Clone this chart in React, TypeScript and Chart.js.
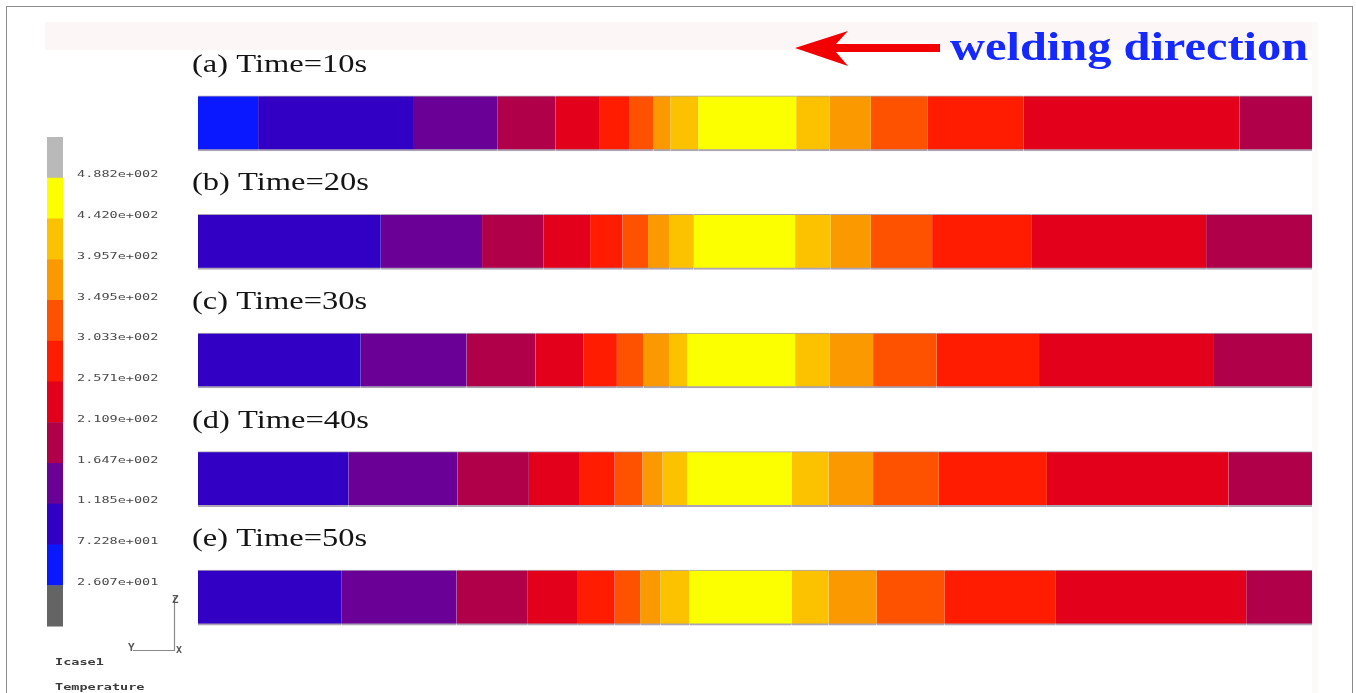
import React, { useEffect, useRef } from "react";
import { Chart, registerables } from "chart.js";
Chart.register(...registerables);

// Row titles (time steps)
const rowLabels = ["(a) Time=10s", "(b) Time=20s", "(c) Time=30s", "(d) Time=40s", "(e) Time=50s"];

// Contour band boundaries along the plate (% of plate length), per time step
const edges10s = [0, 5.4, 19.3, 26.9, 32.1, 36.0, 38.7, 40.9, 42.4, 44.9, 53.7, 56.7, 60.4, 65.5, 74.1, 93.5, 100];
const edges20s = [0, 16.4, 25.5, 31.0, 35.2, 38.1, 40.4, 42.3, 44.5, 53.6, 56.8, 60.4, 65.9, 74.8, 90.5, 100];
const edges30s = [0, 14.6, 24.1, 30.3, 34.6, 37.6, 40.0, 42.3, 43.9, 53.6, 56.7, 60.6, 66.3, 75.5, 91.2, 100];
const edges40s = [0, 13.5, 23.3, 29.7, 34.2, 37.4, 39.9, 41.7, 43.9, 53.3, 56.6, 60.6, 66.5, 76.2, 92.5, 100];
const edges50s = [0, 12.9, 23.2, 29.6, 34.1, 37.4, 39.7, 41.5, 44.1, 53.3, 56.6, 60.9, 67.0, 77.0, 94.1, 100];

// Contour level of each band (0 = lowest, 11 = highest)
const levels10s = [1, 2, 3, 4, 5, 6, 7, 8, 9, 10, 9, 8, 7, 6, 5, 4];
const levelsLater = [2, 3, 4, 5, 6, 7, 8, 9, 10, 9, 8, 7, 6, 5, 4];

// Colour scale, lowest level first
const levelColors = [
  "#646464", "#0a18ff", "#3200c4", "#6a0096", "#b0004a", "#e2001a",
  "#ff1c00", "#ff5200", "#fa9a00", "#fcc200", "#fcff00", "#b9b9b9",
];
// Legend tick labels, top to bottom
const legendLabels = [
  "4.882e+002", "4.420e+002", "3.957e+002", "3.495e+002", "3.033e+002", "2.571e+002",
  "2.109e+002", "1.647e+002", "1.185e+002", "7.228e+001", "2.607e+001",
];

const rows = [
  { edges: edges10s, levels: levels10s },
  { edges: edges20s, levels: levelsLater },
  { edges: edges30s, levels: levelsLater },
  { edges: edges40s, levels: levelsLater },
  { edges: edges50s, levels: levelsLater },
];

function stretchedText(ctx: CanvasRenderingContext2D, text: string, x: number, y: number, font: string, color: string, sx: number) {
  ctx.save();
  ctx.font = font;
  ctx.fillStyle = color;
  ctx.textAlign = "left";
  ctx.textBaseline = "alphabetic";
  ctx.translate(x, y);
  ctx.scale(sx, 1);
  ctx.fillText(text, 0, 0);
  ctx.restore();
}

const decorPlugin = {
  id: "decor",
  beforeDraw(chart: any) {
    const ctx: CanvasRenderingContext2D = chart.ctx;
    ctx.save();
    ctx.fillStyle = "#ffffff";
    ctx.fillRect(0, 0, chart.width, chart.height);
    ctx.fillStyle = "#fdf6f6";
    ctx.fillRect(45, 22, 1273, 28);
    ctx.fillStyle = "#fcf9f9";
    ctx.fillRect(1312, 22, 6, chart.height - 22);
    ctx.strokeStyle = "#8a8a8a";
    ctx.lineWidth = 1;
    ctx.strokeRect(6.5, 6.5, 1346, chart.height + 10);
    ctx.restore();
  },
  afterDraw(chart: any) {
    const ctx: CanvasRenderingContext2D = chart.ctx;
    const yScale = chart.scales.y;
    const left = chart.chartArea.left;
    // row titles
    rowLabels.forEach((t, i) => {
      const yc = yScale.getPixelForValue(i);
      stretchedText(ctx, t, left - 6, yc - 27.5 - 24, "26px 'Liberation Serif'", "#141414", 1.25);
    });
    // welding direction arrow
    ctx.save();
    ctx.fillStyle = "#f20000";
    ctx.beginPath();
    ctx.moveTo(795, 48);
    ctx.lineTo(848, 31);
    ctx.lineTo(836, 44);
    ctx.lineTo(940, 44);
    ctx.lineTo(940, 52);
    ctx.lineTo(836, 52);
    ctx.lineTo(848, 66);
    ctx.closePath();
    ctx.fill();
    ctx.restore();
    stretchedText(ctx, "welding direction", 950, 60, "bold 40px 'Liberation Serif'", "#1428ff", 1.21);
    // colour legend
    const boxH = 40.75;
    const top = 137;
    for (let k = 0; k < levelColors.length; k++) {
      const c = levelColors[levelColors.length - 1 - k];
      ctx.fillStyle = c;
      ctx.fillRect(47, top + k * boxH, 16, boxH + 0.5);
    }
    legendLabels.forEach((l, k) => {
      stretchedText(ctx, l, 77, top + (k + 1) * boxH - 0.5, "9px 'DejaVu Sans Mono'", "#4a4a4a", 1.5);
    });
    stretchedText(ctx, "Icase1", 55, 665, "bold 9px 'DejaVu Sans Mono'", "#3c3c3c", 1.5);
    stretchedText(ctx, "Temperature", 55, 690, "bold 9px 'DejaVu Sans Mono'", "#3c3c3c", 1.5);
    // axis triad
    ctx.save();
    ctx.strokeStyle = "#8a8a8a";
    ctx.lineWidth = 1.2;
    ctx.beginPath();
    ctx.moveTo(174.5, 597);
    ctx.lineTo(174.5, 650.5);
    ctx.lineTo(133, 650.5);
    ctx.stroke();
    ctx.restore();
    stretchedText(ctx, "Z", 172, 603, "bold 10px 'DejaVu Sans Mono'", "#555", 1.1);
    stretchedText(ctx, "Y", 128, 651, "bold 10px 'DejaVu Sans Mono'", "#555", 1.1);
    stretchedText(ctx, "X", 176, 653, "bold 9px 'DejaVu Sans Mono'", "#555", 1.1);
  },
};

export default function App() {
  const ref = useRef<HTMLCanvasElement | null>(null);
  useEffect(() => {
    if (!ref.current) return;
    const maxSeg = Math.max(...rows.map((r) => r.edges.length - 1));
    const datasets = [];
    for (let k = 0; k < maxSeg; k++) {
      datasets.push({
        label: "band " + k,
        data: rows.map((r) => (k < r.edges.length - 1 ? [r.edges[k], r.edges[k + 1]] : null)),
        backgroundColor: rows.map((r) => (k < r.levels.length ? levelColors[r.levels[k]] : "transparent")),
        borderColor: "rgba(70,50,90,0.45)",
        borderWidth: { top: 1, bottom: 2, left: 0, right: 0 },
        borderSkipped: false,
        barThickness: 55,
        grouped: false,
      });
    }
    const chart = new Chart(ref.current, {
      type: "bar",
      data: { labels: rowLabels, datasets: datasets as any },
      options: {
        animation: false,
        responsive: false,
        devicePixelRatio: 1,
        indexAxis: "y",
        layout: { padding: { left: 198, right: 44, top: 64, bottom: 36 } },
        plugins: { legend: { display: false }, tooltip: { enabled: false }, title: { display: false } },
        scales: {
          x: { type: "linear", min: 0, max: 100, display: false },
          y: { type: "category", display: false, offset: true },
        },
      },
      plugins: [decorPlugin],
    });
    return () => chart.destroy();
  }, []);
  return (
    <div style={{ position: "fixed", left: 0, top: 0, width: 1356, height: 693, background: "#fff" }}>
      <canvas ref={ref} width={1356} height={693} style={{ display: "block" }} />
    </div>
  );
}
